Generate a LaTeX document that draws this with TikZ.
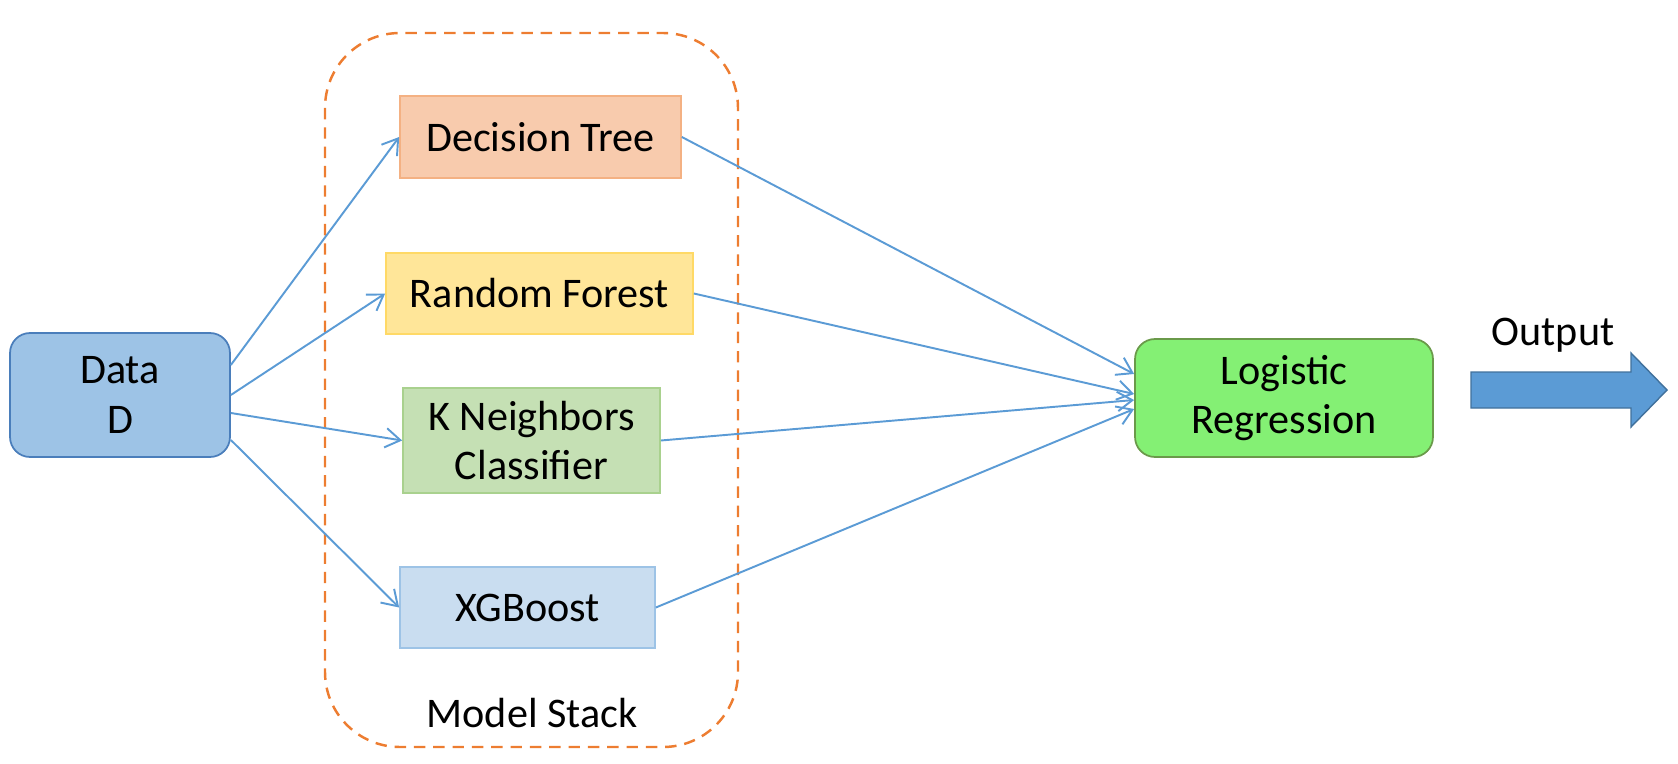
\documentclass[tikz,border=0pt]{standalone}
\usepackage{fontspec}
\setmainfont{Carlito}
\usetikzlibrary{arrows.meta,calc}
\definecolor{datafill}{HTML}{9DC3E6}
\definecolor{dataline}{HTML}{4A7EBB}
\definecolor{treefill}{HTML}{F8CBAD}
\definecolor{treeline}{HTML}{F4B183}
\definecolor{forestfill}{HTML}{FFE699}
\definecolor{forestline}{HTML}{FFD966}
\definecolor{knnfill}{HTML}{C5E0B4}
\definecolor{knnline}{HTML}{A9D18E}
\definecolor{xgbfill}{HTML}{C9DDF0}
\definecolor{xgbline}{HTML}{9DC3E6}
\definecolor{logfill}{HTML}{84F074}
\definecolor{logline}{HTML}{6A9A4A}
\definecolor{linkblue}{HTML}{5B9BD5}
\definecolor{outline}{HTML}{41719C}
\definecolor{stackorange}{HTML}{ED7D31}

\begin{document}
\begin{tikzpicture}[x=0.02cm,y=-0.02cm,
  box/.style={draw,line width=1pt,align=center,inner sep=0pt,font=\fontsize{24}{28.4}\selectfont},
  lbl/.style={font=\fontsize{24}{28.4}\selectfont},
  link/.style={draw=linkblue,line width=1.1pt,-{Straight Barb[length=8.5pt,width=11pt]}}]
\useasboundingbox (0,0) rectangle (1678,764);
\draw[stackorange,line width=1.4pt,dash pattern=on 6.5pt off 4.5pt,rounded corners=1.5cm] (325,33) rectangle (738,747);
\node[lbl] (stack) at (532,713) {Model Stack};
\node[box,rounded corners=0.4cm,fill=datafill,draw=dataline,minimum width=4.4cm,minimum height=2.48cm] (data) at (120,395) {Data\\D};
\node[box,fill=treefill,draw=treeline,minimum width=5.62cm,minimum height=1.64cm] (tree) at (540.5,137) {Decision Tree};
\node[box,fill=forestfill,draw=forestline,minimum width=6.14cm,minimum height=1.62cm] (forest) at (539.5,293.5) {Random Forest};
\node[box,fill=knnfill,draw=knnline,minimum width=5.14cm,minimum height=2.1cm] (knn) at (531.5,440.5) {K Neighbors\\Classifier};
\node[box,fill=xgbfill,draw=xgbline,minimum width=5.1cm,minimum height=1.62cm] (xgb) at (527.5,607.5) {XGBoost};
\node[box,rounded corners=0.4cm,fill=logfill,draw=logline,minimum width=5.96cm,minimum height=2.36cm] (logreg) at (1284,398) {Logistic\\Regression};
\node[lbl] (output) at (1553,335) {Output};
\draw[link] ($(data.east)+(0,-30)$) -- (tree.west);
\draw[link] (data.east) -- (forest.west);
\draw[link] ($(data.east)+(0,18)$) -- (knn.west);
\draw[link] ($(data.east)+(0,45)$) -- (xgb.west);
\draw[link] (tree.east) -- ($(logreg.west)+(0,-24)$);
\draw[link] (forest.east) -- ($(logreg.west)+(0,-4)$);
\draw[link] (knn.east) -- ($(logreg.west)+(0,2)$);
\draw[link] (xgb.east) -- ($(logreg.west)+(0,11)$);
\draw[outline,fill=linkblue,line width=0.8pt] (1471,372) -- (1631,372) -- (1631,353) -- (1667,390) -- (1631,427) -- (1631,408) -- (1471,408) -- cycle;
\end{tikzpicture}
\end{document}
